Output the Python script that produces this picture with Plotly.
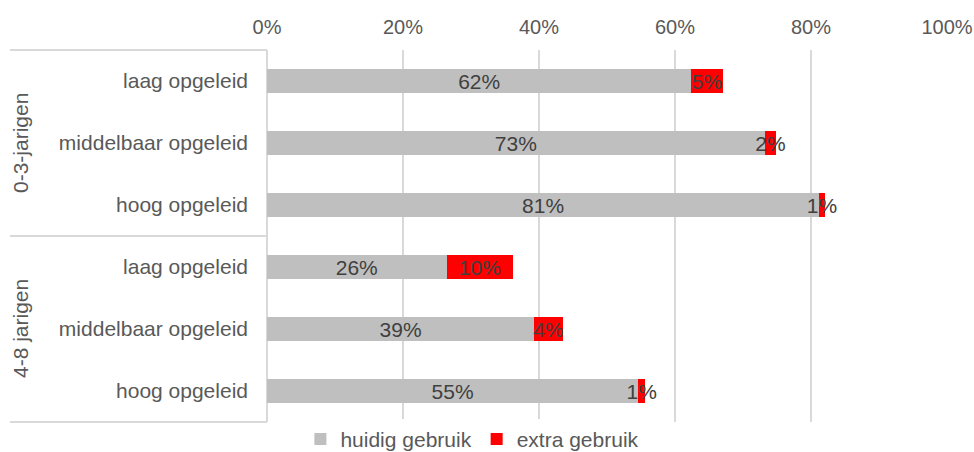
import plotly.graph_objects as go

groups = ["0-3-jarigen", "0-3-jarigen", "0-3-jarigen", "4-8 jarigen", "4-8 jarigen", "4-8 jarigen"]
levels = ["laag opgeleid", "middelbaar opgeleid", "hoog opgeleid",
          "laag opgeleid", "middelbaar opgeleid", "hoog opgeleid"]
huidig = [0.624, 0.732, 0.812, 0.264, 0.393, 0.546]
extra = [0.046, 0.017, 0.008, 0.098, 0.042, 0.010]
group_names = ["0-3-jarigen", "4-8 jarigen"]

keys = [g + "|" + l for g, l in zip(groups, levels)]

FONT = "Liberation Sans, Arial, sans-serif"
TXT = "#595959"
LINE = "#d9d9d9"

fig = go.Figure()
fig.add_trace(go.Bar(
    y=keys, x=huidig, orientation="h", name="huidig gebruik",
    marker=dict(color="#BFBFBF", line=dict(width=0)),
    text=[f"{v*100:.0f}%" for v in huidig], textangle=0,
    textposition="inside", insidetextanchor="middle", constraintext="none",
    textfont=dict(color="#404040", size=21, family=FONT),
))
fig.add_trace(go.Bar(
    y=keys, x=extra, orientation="h", name="extra gebruik",
    marker=dict(color="#FF0000", line=dict(width=0)),
    text=[f"{v*100:.0f}%" for v in extra], textangle=0,
    textposition="inside", insidetextanchor="middle", constraintext="none",
    textfont=dict(color="#404040", size=21, family=FONT),
))

fig.update_layout(
    width=974, height=452,
    barmode="stack", bargap=0.6,
    plot_bgcolor="white", paper_bgcolor="white",
    margin=dict(l=267, r=27, t=50, b=30, autoexpand=False),
    font=dict(family=FONT, color=TXT, size=21),
    showlegend=True,
    legend=dict(orientation="h", xref="container", x=0.485, xanchor="center",
                yref="container", y=0.028, yanchor="middle",
                font=dict(size=21, color=TXT), itemwidth=30,
                traceorder="normal"),
    xaxis=dict(side="top", range=[0, 1], dtick=0.2, tickformat=".0%", automargin=False,
               showgrid=True, gridcolor=LINE, gridwidth=2, zeroline=False,
               ticklabelstandoff=11,
               showline=False, ticks="", tickfont=dict(size=20, color=TXT)),
    yaxis=dict(autorange="reversed", tickmode="array", tickvals=keys, ticktext=levels,
               automargin=False,
               ticks="", showgrid=False, showline=False, zeroline=False,
               ticklabelstandoff=18, tickfont=dict(size=21, color=TXT)),
)

# category box lines
lx0 = -257 / 680
for yd in [0, 0.5, 1]:
    fig.add_shape(type="line", xref="paper", yref="y domain", x0=lx0, x1=0, y0=yd, y1=yd,
                  line=dict(color=LINE, width=2), layer="below")
fig.add_shape(type="line", xref="paper", yref="y domain", x0=0, x1=0, y0=0, y1=1,
              line=dict(color=LINE, width=2), layer="below")

# group labels
for i, g in enumerate(group_names):
    fig.add_annotation(text=g, xref="paper", yref="y domain", x=-247 / 680,
                       y=0.75 - 0.5 * i, textangle=-90, showarrow=False,
                       xanchor="center", yanchor="middle",
                       font=dict(size=21, color=TXT))

fig.write_html("out.html", config={"displayModeBar": False},
               post_script="document.body.style.margin='0';document.body.style.overflow='hidden';")
